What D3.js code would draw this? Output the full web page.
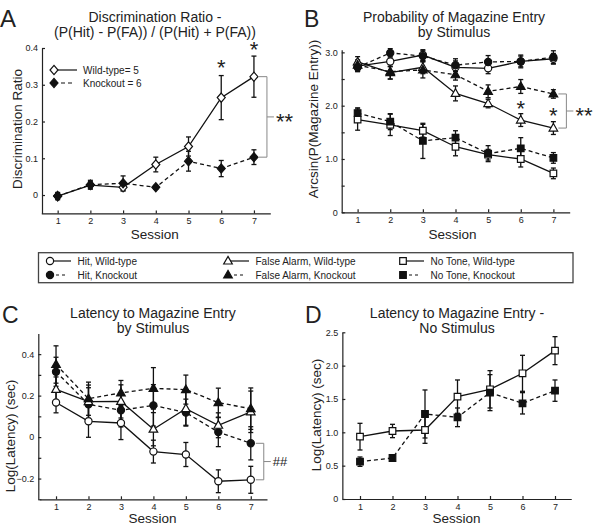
<!DOCTYPE html>
<html><head><meta charset="utf-8">
<script src="https://cdn.jsdelivr.net/npm/d3@7"></script>
<style>body{margin:0;background:#fff}text{font-family:"Liberation Sans",Arial,sans-serif;fill:#222}</style>
</head><body><svg id="c" width="600" height="528"></svg>
<script>
const sessions = [1,2,3,4,5,6,7];
// Panel A: discrimination ratio
const aWT = [-0.003,0.027,0.021,0.083,0.132,0.265,0.322];
const aWTerr = [0.01,0.01,0.01,0.02,0.026,0.06,0.056];
const aKO = [-0.003,0.028,0.032,0.021,0.092,0.072,0.103];
const aKOerr = [0.008,0.012,0.02,0.005,0.027,0.022,0.02];
const aYTicks = [0,0.1,0.2,0.3,0.4];
// Panel B: arcsin(P(entry))
const bHitWT = [2.74,2.83,2.95,2.72,2.70,2.83,2.88];
const bHitWTerr = [0.1,0.1,0.1,0.12,0.1,0.1,0.1];
const bHitKO = [2.72,2.99,2.93,2.76,2.82,2.83,2.91];
const bHitKOerr = [0.08,0.08,0.1,0.12,0.12,0.12,0.12];
const bFAWT = [2.82,2.62,2.72,2.23,2.04,1.73,1.58];
const bFAWTerr = [0.1,0.12,0.12,0.14,0.08,0.12,0.12];
const bFAKO = [2.76,2.64,2.67,2.58,2.27,2.36,2.22];
const bFAKOerr = [0.1,0.14,0.15,0.1,0.12,0.13,0.08];
const bNTWT = [1.74,1.64,1.53,1.23,1.08,1.0,0.73];
const bNTWTerr = [0.2,0.2,0.12,0.17,0.1,0.15,0.1];
const bNTKO = [1.86,1.70,1.34,1.40,1.10,1.20,1.02];
const bNTKOerr = [0.1,0.15,0.33,0.13,0.15,0.2,0.1];
const bYTicks = [0,0.5,1,1.5,2,2.5,3];
// Panel C: log latency by stimulus
const cHitWT = [0.167,0.076,0.068,-0.07,-0.084,-0.213,-0.206];
const cHitWTerr = [0.05,0.077,0.08,0.055,0.058,0.055,0.065];
const cHitKO = [0.315,0.158,0.129,0.153,0.118,0.024,-0.03];
const cHitKOerr = [0.07,0.08,0.08,0.1,0.065,0.07,0.08];
const cFAWT = [0.23,0.171,0.172,0.038,0.137,0.057,0.122];
const cFAWTerr = [0.06,0.08,0.08,0.08,0.08,0.06,0.1];
const cFAKO = [0.35,0.185,0.213,0.235,0.229,0.166,0.137];
const cFAKOerr = [0.09,0.08,0.06,0.1,0.07,0.07,0.1];
const cYTicks = [-0.3,-0.2,-0.1,0,0.1,0.2,0.3,0.4];
// Panel D: log latency no stimulus
const dWT = [0.935,1.02,1.035,1.535,1.645,1.885,2.225];
const dWTerr = [0.2,0.1,0.2,0.25,0.28,0.27,0.21];
const dKO = [0.56,0.615,1.275,1.225,1.595,1.435,1.625];
const dKOerr = [0.07,0.02,0.36,0.14,0.27,0.16,0.16];
const dYTicks = [0,0.5,1,1.5,2,2.5];

const svg = d3.select("#c");
const FONT = 13.5, TFONT = 14;

function markerPath(type){
  switch(type){
    case "diamond": return "M0,-4.6L4,0L0,4.6L-4,0Z";
    case "circle": return "M3.6,0A3.6,3.6 0 1,1 -3.6,0A3.6,3.6 0 1,1 3.6,0Z";
    case "square": return "M-3.3,-3.3H3.3V3.3H-3.3Z";
    case "triangle": return "M0,-4.6L4.3,3L-4.3,3Z";
  }
}

function panel(cfg){
  const g = svg.append("g");
  const x = d3.scaleLinear().domain([0.5,7.5]).range(cfg.xr);
  const y = d3.scaleLinear().domain(cfg.yd).range(cfg.yr);
  const ax = g.append("g").attr("transform",`translate(0,${cfg.yr[0]})`)
    .call(d3.axisBottom(x).tickValues(sessions).tickFormat(d3.format("d")).tickSizeInner(-3).tickSizeOuter(0).tickPadding(4.5));
  const ay = g.append("g").attr("transform",`translate(${cfg.xr[0]+cfg.yOff},0)`)
    .call(d3.axisLeft(y).tickValues(cfg.yt).tickSizeInner(-3).tickSizeOuter(0).tickPadding(4).tickFormat(cfg.fmt));
  [ax,ay].forEach(a=>{a.selectAll("path,line").attr("stroke","#222").attr("stroke-width",1.2);
    a.selectAll("text").attr("font-size",9).attr("fill","#222").style("font-family","Liberation Sans, Arial");});
  const series = cfg.series;
  const line = d3.line().x((d,i)=>x(sessions[i])).y(d=>y(d));
  series.forEach(s=>{
    g.append("path").attr("d",line(s.v)).attr("fill","none").attr("stroke","#111")
      .attr("stroke-width",1.3).attr("stroke-dasharray",s.dash?"4,3":null);
  });
  series.forEach(s=>{
    s.v.forEach((v,i)=>{
      const cx = x(sessions[i]), e = s.e[i];
      g.append("line").attr("x1",cx).attr("x2",cx).attr("y1",y(v-e)).attr("y2",y(v+e)).attr("stroke","#111").attr("stroke-width",1.3);
      [v-e,v+e].forEach(t=>g.append("line").attr("x1",cx-2.5).attr("x2",cx+2.5).attr("y1",y(t)).attr("y2",y(t)).attr("stroke","#111").attr("stroke-width",1.3));
    });
  });
  series.forEach(s=>{
    s.v.forEach((v,i)=>{
      g.append("path").attr("d",markerPath(s.m)).attr("transform",`translate(${x(sessions[i])},${y(v)})`)
        .attr("fill",s.fill?"#111":"#fff").attr("stroke","#111").attr("stroke-width",1.2);
    });
  });
  cfg.title.forEach((t,i)=>g.append("text").attr("x",cfg.tx).attr("y",cfg.ty[i]).attr("text-anchor","middle").attr("font-size",TFONT).text(t));
  g.append("text").attr("x",(cfg.xr[0]+cfg.xr[1])/2+cfg.sessDx).attr("y",cfg.sessY).attr("text-anchor","middle").attr("font-size",FONT).text("Session");
  g.append("text").attr("transform",`translate(${cfg.ylx},${cfg.yly}) rotate(-90)`).attr("text-anchor","middle").attr("font-size",FONT).text(cfg.ylab);
  g.append("text").attr("x",cfg.letter[1]).attr("y",cfg.letter[2]).attr("font-size",cfg.letter[3]).text(cfg.letter[0]);
  return {g,x,y};
}

const f1 = d=> d===0?"0":d3.format(".1f")(d);
const A = panel({xr:[41.3,270.3], yd:[-0.05,0.4], yr:[213.4,48], yt:aYTicks, yOff:0.7, fmt:f1,
  series:[{v:aWT,e:aWTerr,m:"diamond",fill:false,dash:false},{v:aKO,e:aKOerr,m:"diamond",fill:true,dash:true}],
  title:["Discrimination Ratio -","(P(Hit) - P(FA)) / (P(Hit) + P(FA))"], tx:155, ty:[22,37],
  sessY:239, sessDx:-1, ylx:21.5, yly:129, ylab:"Discrimination Ratio", letter:["A",0,27,24]});
const B = panel({xr:[341.3,569.7], yd:[0,3.05], yr:[212.3,49.7], yt:bYTicks, yOff:0.4, fmt:d=>d===0?"0":(d%1===0?d3.format(".1f")(d):""),
  series:[{v:bHitWT,e:bHitWTerr,m:"circle",fill:false,dash:false},{v:bHitKO,e:bHitKOerr,m:"circle",fill:true,dash:true},
          {v:bFAWT,e:bFAWTerr,m:"triangle",fill:false,dash:false},{v:bFAKO,e:bFAKOerr,m:"triangle",fill:true,dash:true},
          {v:bNTWT,e:bNTWTerr,m:"square",fill:false,dash:false},{v:bNTKO,e:bNTKOerr,m:"square",fill:true,dash:true}],
  title:["Probability of Magazine Entry","by Stimulus"], tx:454, ty:[22,37],
  sessY:239, sessDx:-3, ylx:318, yly:119, ylab:"Arcsin(P(Magazine Entry))", letter:["B",304,27,23]});
const C = panel({xr:[39.8,267], yd:[-0.3,0.5], yr:[499.3,333.4], yt:cYTicks, yOff:-1.5, fmt:d=>(Math.round(d*10)%2===0)?(d===0?"0":d3.format(".1f")(d)):"",
  series:[{v:cHitWT,e:cHitWTerr,m:"circle",fill:false,dash:false},{v:cHitKO,e:cHitKOerr,m:"circle",fill:true,dash:true},
          {v:cFAWT,e:cFAWTerr,m:"triangle",fill:false,dash:false},{v:cFAKO,e:cFAKOerr,m:"triangle",fill:true,dash:true}],
  title:["Latency to Magazine Entry","by Stimulus"], tx:153, ty:[318,333],
  sessY:523, sessDx:-1, ylx:14.5, yly:436, ylab:"Log(Latency) (sec)", letter:["C",2,323,23]});
const D = panel({xr:[343.75,571.25], yd:[0,2.5], yr:[499,332.3], yt:dYTicks, yOff:-1.4, fmt:f1,
  series:[{v:dWT,e:dWTerr,m:"square",fill:false,dash:false},{v:dKO,e:dKOerr,m:"square",fill:true,dash:true}],
  title:["Latency to Magazine Entry -","No Stimulus"], tx:457, ty:[318,333],
  sessY:523, sessDx:-1, ylx:321, yly:415, ylab:"Log(Latency) (sec)", letter:["D",305,323,23]});

function star(x,yc,size){svg.append("text").attr("x",x).attr("y",yc+size*0.56).attr("text-anchor","middle").attr("font-size",size).attr("fill","#333").text("*");}
function bracket(P,xs,v1,v2,label,lsize,lbl){
  const bx = P.x(xs)+13, y1=P.y(v1), y2=P.y(v2), ym=(y1+y2)/2;
  const p = d3.path(); p.moveTo(bx-8,y1); p.lineTo(bx,y1); p.lineTo(bx,y2); p.lineTo(bx-8,y2); p.moveTo(bx,ym); p.lineTo(bx+7,ym);
  svg.append("path").attr("d",p.toString()).attr("fill","none").attr("stroke","#888").attr("stroke-width",1);
  svg.append("text").attr("x",bx+9).attr("y",ym+(lbl?lsize*0.36:lsize*0.56)).attr("font-size",lsize).attr("fill","#333").text(label);
}
star(A.x(6),A.y(aWT[5]+aWTerr[5])-13,22);
star(A.x(7),A.y(aWT[6]+aWTerr[6])-11,22);
bracket(A,7,aWT[6],aKO[6],"**",22,false);
star(B.x(6),103.5,22);
star(B.x(7),111,22);
bracket(B,7,bFAKO[6],bFAWT[6],"**",22,false);
bracket(C,7,cHitKO[6],cHitWT[6],"##",13,true);

// legend
const lg = svg.append("g");
lg.append("rect").attr("x",38.5).attr("y",252.7).attr("width",534.5).attr("height",30).attr("fill","#fff").attr("stroke","#444").attr("stroke-width",1.3);
const legendItems = [
  {m:"circle",fill:false,dash:false,t:"Hit, Wild-type",col:0,row:0},
  {m:"circle",fill:true,dash:true,t:"Hit, Knockout",col:0,row:1},
  {m:"triangle",fill:false,dash:false,t:"False Alarm, Wild-type",col:1,row:0},
  {m:"triangle",fill:true,dash:true,t:"False Alarm, Knockout",col:1,row:1},
  {m:"square",fill:false,dash:false,t:"No Tone, Wild-type",col:2,row:0},
  {m:"square",fill:true,dash:true,t:"No Tone, Knockout",col:2,row:1}];
const colX = [50,228,403], rowY=[261,275];
legendItems.forEach(it=>{
  const mx=colX[it.col], my=rowY[it.row];
  lg.append("line").attr("x1",mx).attr("x2",mx+21).attr("y1",my).attr("y2",my).attr("stroke","#111").attr("stroke-width",1.2).attr("stroke-dasharray",it.dash?"0,6,3,3,3,3":null);
  lg.append("path").attr("d",markerPath(it.m)).attr("transform",`translate(${mx},${my})`).attr("fill",it.fill?"#111":"#fff").attr("stroke","#111").attr("stroke-width",1.2);
  lg.append("text").attr("x",mx+27.5).attr("y",my+3.6).attr("font-size",10).text(it.t);
});
[{fill:false,dash:false,t:"Wild-type= 5",y:70},{fill:true,dash:true,t:"Knockout = 6",y:83}].forEach(it=>{
  svg.append("line").attr("x1",54).attr("x2",77).attr("y1",it.y).attr("y2",it.y).attr("stroke","#111").attr("stroke-width",1.2).attr("stroke-dasharray",it.dash?"0,7,4,3,4,3":null);
  svg.append("path").attr("d",markerPath("diamond")).attr("transform",`translate(54,${it.y})`).attr("fill",it.fill?"#111":"#fff").attr("stroke","#111").attr("stroke-width",1.2);
  svg.append("text").attr("x",83).attr("y",it.y+3.6).attr("font-size",10).text(it.t);
});
</script></body></html>
